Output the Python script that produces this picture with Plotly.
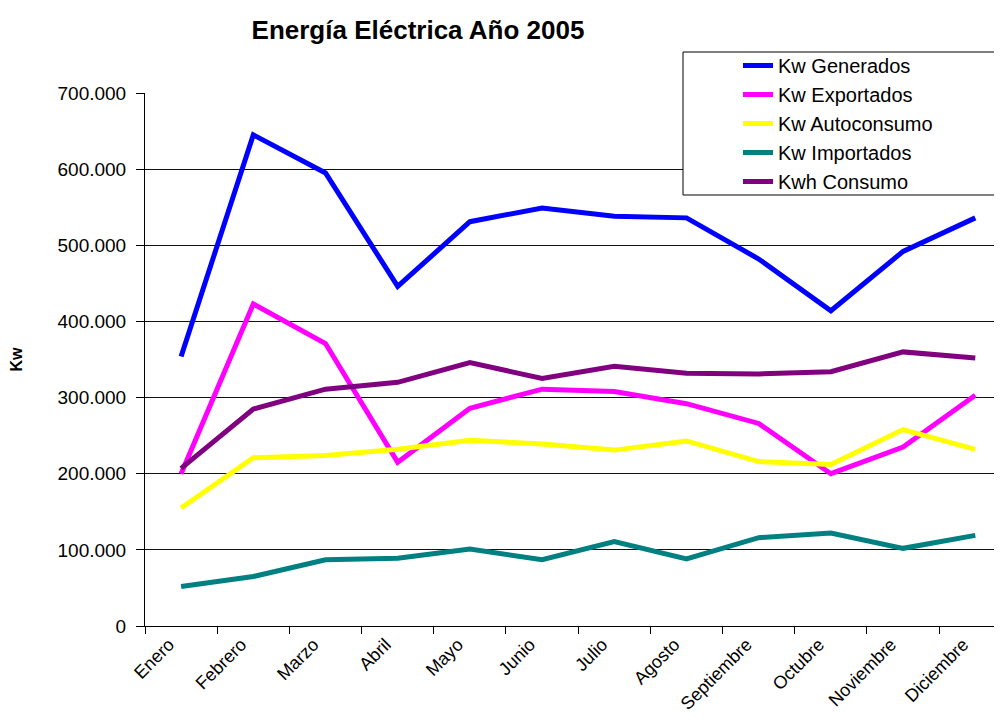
import plotly.graph_objects as go

meses = ["Enero", "Febrero", "Marzo", "Abril", "Mayo", "Junio", "Julio",
         "Agosto", "Septiembre", "Octubre", "Noviembre", "Diciembre"]

kw_generados = [354000, 645000, 595000, 446000, 531000, 549000, 538000,
                536000, 482000, 414000, 492000, 536000]
kw_exportados = [200000, 423000, 371000, 215000, 286000, 311000, 308000,
                 292000, 266000, 200000, 235000, 303000]
kw_autoconsumo = [155000, 221000, 224000, 232000, 244000, 239000, 231000,
                  243000, 216000, 212000, 258000, 232000]
kw_importados = [52000, 65000, 87000, 89000, 101000, 87000, 111000,
                 88000, 116000, 122000, 102000, 119000]
kwh_consumo = [207000, 285000, 311000, 320000, 346000, 325000, 341000,
               332000, 331000, 334000, 360000, 352000]

series = [
    ("Kw Generados", kw_generados, "#0000FF"),
    ("Kw Exportados", kw_exportados, "#FF00FF"),
    ("Kw Autoconsumo", kw_autoconsumo, "#FFFF00"),
    ("Kw Importados", kw_importados, "#008080"),
    ("Kwh Consumo", kwh_consumo, "#800080"),
]

FONT = "Liberation Sans, Arial, sans-serif"

fig = go.Figure()
for name, vals, color in series:
    fig.add_trace(go.Scatter(
        x=meses, y=vals, name=name, mode="lines",
        line=dict(color=color, width=5),
    ))

# page body has an 8px margin: figure coords = screen coords - 8
OFF = 8
W, H = 994, 706
ml, mr, mt = 145 - OFF, 0, 93 - OFF
ph = 533
mb = H - mt - ph
pw = W - ml - mr

def px_x(x):
    return (x - OFF - ml) / pw

def px_y(y):
    return (mt + ph - (y - OFF)) / ph

fig.update_layout(
    width=W, height=H,
    margin=dict(l=ml, r=mr, t=mt, b=mb, autoexpand=False),
    paper_bgcolor="white", plot_bgcolor="white",
    separators=",.",
    font=dict(family=FONT, color="black"),
    title=dict(
        text="<b>Energía Eléctrica Año 2005</b>",
        font=dict(family=FONT, size=26, color="black"),
        xref="container", yref="container",
        x=(418 - OFF) / W, y=1 - (30 - OFF) / H, xanchor="center", yanchor="middle",
    ),
    showlegend=True,
    legend=dict(
        xref="container", yref="container",
        x=(738 - OFF) / W, y=1 - (46 - OFF) / H, xanchor="left", yanchor="top",
        font=dict(family=FONT, size=20, color="black"),
        bgcolor="rgba(0,0,0,0)", borderwidth=0,
        tracegroupgap=0,
    ),
    shapes=[dict(
        type="rect", xref="paper", yref="paper", layer="above",
        x0=px_x(683), x1=px_x(1060), y0=px_y(195), y1=px_y(52),
        line=dict(color="black", width=1), fillcolor="white",
    )],
)

fig.update_xaxes(
    type="category",
    range=[-0.5, 11.37],
    tickson="boundaries",
    ticks="outside", ticklen=7, tickcolor="black", tickwidth=1,
    showline=True, linecolor="black", linewidth=1,
    showgrid=False, zeroline=False,
    tickangle=-45,
    ticklabelshift=-12,
    tickfont=dict(family=FONT, size=18, color="black"),
    automargin=False,
)

fig.update_yaxes(
    range=[0, 700000],
    tickvals=[0, 100000, 200000, 300000, 400000, 500000, 600000, 700000],
    tickformat=",.0f",
    ticks="outside", ticklen=8, tickcolor="black", tickwidth=1,
    ticklabelstandoff=6,
    showline=True, linecolor="black", linewidth=1,
    showgrid=True, gridcolor="#111111", gridwidth=1,
    zeroline=False,
    tickfont=dict(family=FONT, size=19, color="black"),
    title=dict(text="<b>Kw</b>", font=dict(family=FONT, size=16, color="black"),
               standoff=32),
    automargin=False,
)

fig.write_html("out.html")
